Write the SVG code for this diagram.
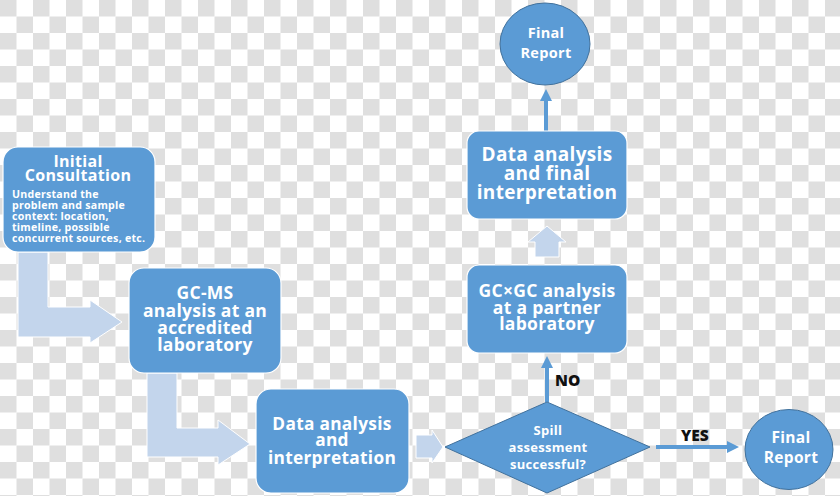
<svg xmlns="http://www.w3.org/2000/svg" width="840" height="496" viewBox="0 0 840 496">
  <defs>
    <pattern id="checker" x="0" y="0" width="33" height="33" patternUnits="userSpaceOnUse">
      <rect width="33" height="33" fill="#ffffff"/>
      <rect x="0" y="0" width="16.5" height="16.5" fill="#dfdfdf"/>
      <rect x="16.5" y="16.5" width="16.5" height="16.5" fill="#dfdfdf"/>
    </pattern>
    <marker id="head" viewBox="0 0 12 12" refX="6" refY="6" markerWidth="12" markerHeight="12" markerUnits="userSpaceOnUse" orient="auto">
      <path d="M0,0 L12,6 L0,12 Z" fill="#5b9bd5"/>
    </marker>
    <style>
      .box { fill: #5b9bd5; stroke: #ffffff; stroke-width: 1.2; }
      .oval { fill: #5b9bd5; stroke: #41719c; stroke-width: 1; }
      .light { fill: #c3d5ec; stroke: #ffffff; stroke-width: 1; }
      .line { stroke: #5b9bd5; stroke-width: 4; fill: none; }
      .t { font-family: "Open Sans", Lato, "Liberation Sans", sans-serif; font-weight: 700; fill: #ffffff; text-anchor: middle; letter-spacing: 0.3px; }
      .s { font-family: "Open Sans", Lato, "Liberation Sans", sans-serif; font-weight: 700; fill: #ffffff; font-size: 10.6px; letter-spacing: 0.25px; }
      .lbl { font-family: "Open Sans", Lato, "Liberation Sans", sans-serif; font-weight: 800; fill: #111111; font-size: 15.5px; }
    </style>
  </defs>
  <rect width="840" height="496" fill="url(#checker)"/>

  <g id="connectors">
    <path class="light" d="M18,252 L48,252 L48,307 L90,307 L90,300 L122,322 L90,343 L90,337 L18,337 Z"/>
    <path class="light" d="M147,373 L177,373 L177,428 L218,428 L218,420 L250,444 L218,465 L218,457 L147,457 Z"/>
    <path class="light" d="M416,435 L432,435 L432,430 L443,447 L432,463 L432,458 L416,458 Z"/>
    <path class="light" d="M535,257 L535,242 L528,242 L547,226 L566,242 L559,242 L559,257 Z"/>
    <line class="line" x1="547" y1="402" x2="547" y2="362" marker-end="url(#head)"/>
    <line class="line" x1="656" y1="447" x2="733" y2="447" marker-end="url(#head)"/>
    <line class="line" x1="546" y1="131" x2="546" y2="95" marker-end="url(#head)"/>
    <text class="lbl" x="555" y="386">NO</text>
    <text class="lbl" x="681" y="441">YES</text>
  </g>

  <g id="initial-consultation">
    <rect class="box" x="3" y="147" width="152" height="105" rx="15"/>
    <text class="t" x="78" y="167" font-size="16">Initial</text>
    <text class="t" x="78" y="181" font-size="16">Consultation</text>
    <text class="s" x="12" y="197.5">Understand the</text>
    <text class="s" x="12" y="208.5">problem and sample</text>
    <text class="s" x="12" y="219.5">context: location,</text>
    <text class="s" x="12" y="230.5">timeline, possible</text>
    <text class="s" x="12" y="241.5">concurrent sources, etc.</text>
  </g>

  <g id="gcms">
    <rect class="box" x="129" y="268" width="152" height="105" rx="15"/>
    <text class="t" x="205" y="299" font-size="17.5">GC-MS</text>
    <text class="t" x="205" y="316.5" font-size="17.5">analysis at an</text>
    <text class="t" x="205" y="334" font-size="17.5">accredited</text>
    <text class="t" x="205" y="351" font-size="17.5">laboratory</text>
  </g>

  <g id="data-analysis">
    <rect class="box" x="256" y="389" width="153" height="104" rx="15"/>
    <text class="t" x="332" y="429.5" font-size="17.3">Data analysis</text>
    <text class="t" x="332" y="446" font-size="17.3">and</text>
    <text class="t" x="332" y="463.5" font-size="17.3">interpretation</text>
  </g>

  <g id="spill-assessment">
    <polygon class="oval" points="445,447 547,402 650,447 547,493"/>
    <text class="t" x="548" y="435" font-size="13">Spill</text>
    <text class="t" x="548" y="452" font-size="13">assessment</text>
    <text class="t" x="548" y="469" font-size="13">successful?</text>
  </g>

  <g id="final-report-bottom">
    <ellipse class="oval" cx="789" cy="449.5" rx="44" ry="40"/>
    <text class="t" x="791" y="443" font-size="15.5">Final</text>
    <text class="t" x="791" y="463" font-size="15.5">Report</text>
  </g>

  <g id="gcxgc">
    <rect class="box" x="467" y="265" width="160" height="88" rx="12"/>
    <text class="t" x="547" y="297" font-size="17.5">GC×GC analysis</text>
    <text class="t" x="547" y="313.5" font-size="17.5">at a partner</text>
    <text class="t" x="547" y="330" font-size="17.5">laboratory</text>
  </g>

  <g id="final-interpretation">
    <rect class="box" x="467" y="131" width="160" height="88" rx="12"/>
    <text class="t" x="547" y="161" font-size="19">Data analysis</text>
    <text class="t" x="547" y="179.5" font-size="19">and final</text>
    <text class="t" x="547" y="198.5" font-size="19">interpretation</text>
  </g>

  <g id="final-report-top">
    <ellipse class="oval" cx="545" cy="44" rx="45" ry="41"/>
    <text class="t" x="546" y="37.5" font-size="14.5">Final</text>
    <text class="t" x="546" y="57.5" font-size="14.5">Report</text>
  </g>
</svg>
